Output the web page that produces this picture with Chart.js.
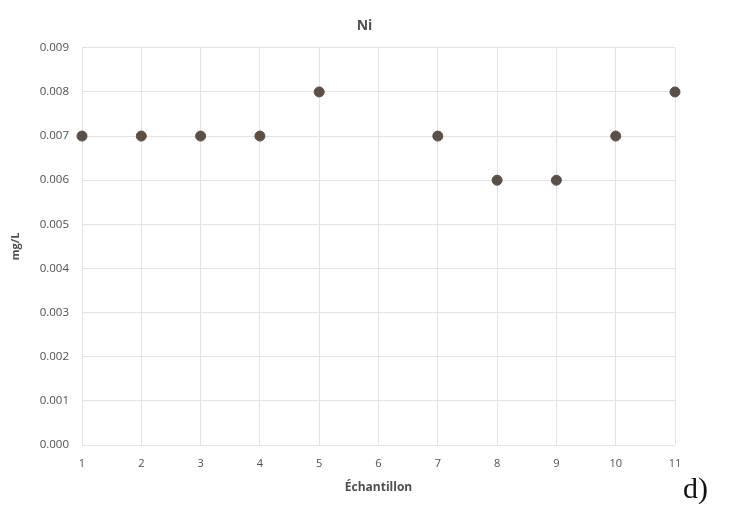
<!DOCTYPE html>
<html>
<head>
<meta charset="utf-8">
<script src="https://cdn.jsdelivr.net/npm/chart.js@4.4.0/dist/chart.umd.min.js"></script>
<style>
html,body{margin:0;padding:0;background:#fff;}
#wrap{position:relative;width:729px;height:511px;}
#note{position:absolute;left:683px;top:471px;font-family:"Liberation Serif","DejaVu Serif",serif;font-size:30px;color:#111;}
</style>
</head>
<body>
<div id="wrap">
<canvas id="c" width="729" height="511"></canvas>
<div id="note">d)</div>
</div>
<script>
const chartTitle = "Ni";
const xAxisTitle = "Échantillon";
const yAxisTitle = "mg/L";
const samples = [1, 2, 3, 4, 5, 6, 7, 8, 9, 10, 11];
const niValues = [0.007, 0.007, 0.007, 0.007, 0.008, null, 0.007, 0.006, 0.006, 0.007, 0.008];
const yMin = 0, yMax = 0.009, yStep = 0.001;

const points = samples.map((s, i) => ({x: s, y: niValues[i]})).filter(p => p.y !== null);
const tickColor = "#505050";
const gridColor = "#e3e3e3";
const fontFam = "'Open Sans','Liberation Sans',sans-serif";

new Chart(document.getElementById('c'), {
  type: 'scatter',
  data: {
    datasets: [{
      label: chartTitle,
      data: points,
      backgroundColor: '#5b5047',
      borderColor: '#5b5047',
      pointRadius: 5,
      pointHoverRadius: 5,
      showLine: false,
      clip: false
    }]
  },
  options: {
    responsive: false,
    animation: false,
    layout: {padding: {left: 0, right: 0, top: 0, bottom: 16}},
    plugins: {
      legend: {display: false},
      tooltip: {enabled: false},
      title: {
        display: true,
        text: chartTitle,
        color: tickColor,
        font: {family: fontFam, size: 14, weight: 'bold'},
        padding: {top: 18, bottom: 13}
      }
    },
    scales: {
      x: {
        type: 'linear',
        min: 1, max: 11,
        ticks: {stepSize: 1, color: tickColor, font: {family: fontFam, size: 11}, padding: 12},
        grid: {color: gridColor, drawTicks: false},
        border: {display: false},
        title: {display: true, text: xAxisTitle, color: tickColor, font: {family: fontFam, size: 12, weight: 'bold'}, padding: {top: 4, bottom: 0}},
        afterFit: s => { s.height = 50; }
      },
      y: {
        min: yMin, max: yMax,
        ticks: {stepSize: yStep, color: tickColor, font: {family: fontFam, size: 11.5}, padding: 13,
          callback: v => Number(v).toFixed(3)},
        grid: {color: gridColor, drawTicks: false},
        border: {display: false},
        title: {display: true, text: yAxisTitle, color: tickColor, font: {family: fontFam, size: 11, weight: 'bold'}, padding: {top: 9, bottom: 0}},
        afterFit: s => { s.width = 82; }
      },
      rightSpace: {
        type: 'linear',
        position: 'right',
        display: true,
        ticks: {display: false},
        grid: {display: false},
        border: {display: false},
        afterFit: s => { s.width = 54; }
      }
    }
  }
});
</script>
</body>
</html>
